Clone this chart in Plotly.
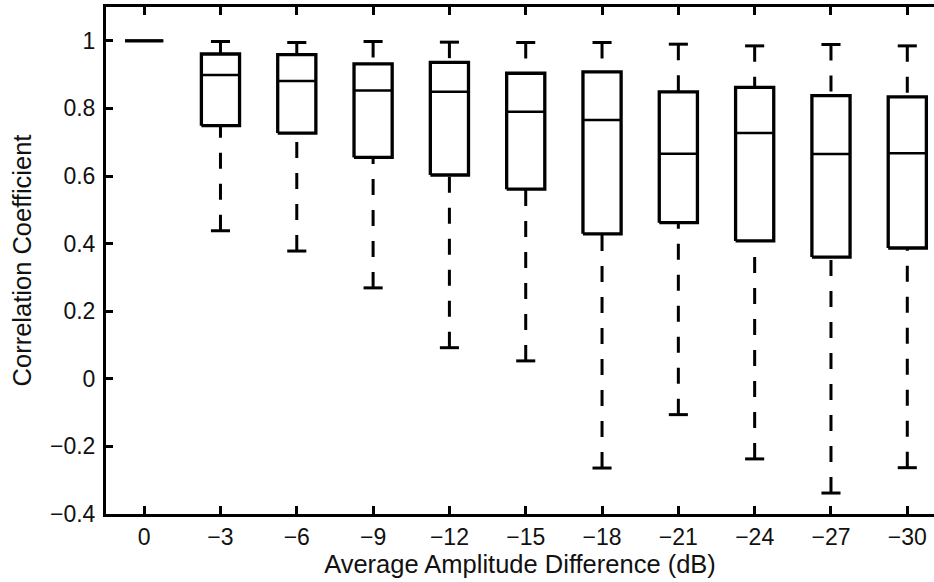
import plotly.graph_objects as go

categories = ["0", "−3", "−6", "−9", "−12", "−15", "−18", "−21", "−24", "−27", "−30"]
lower_whisker = [1.0, 0.438, 0.378, 0.269, 0.092, 0.053, -0.264, -0.106, -0.237, -0.338, -0.263]
q1 = [1.0, 0.749, 0.727, 0.655, 0.603, 0.561, 0.429, 0.462, 0.408, 0.360, 0.387]
median = [1.0, 0.899, 0.881, 0.853, 0.849, 0.790, 0.766, 0.666, 0.727, 0.665, 0.667]
q3 = [1.0, 0.961, 0.959, 0.932, 0.936, 0.904, 0.908, 0.849, 0.862, 0.838, 0.834]
upper_whisker = [1.0, 0.998, 0.995, 0.998, 0.996, 0.995, 0.995, 0.990, 0.985, 0.989, 0.985]
y_ticks = [-0.4, -0.2, 0, 0.2, 0.4, 0.6, 0.8, 1]

BOX_HALF = 0.25
CAP_HALF = 0.125
FONT = "Liberation Sans, Arial, Helvetica, sans-serif"

box_x, box_y = [], []
med_x, med_y = [], []
cap_x, cap_y = [], []
wh_x, wh_y = [], []
for i in range(len(categories)):
    box_x += [i - BOX_HALF, i + BOX_HALF, i + BOX_HALF, i - BOX_HALF, i - BOX_HALF, None]
    box_y += [q1[i], q1[i], q3[i], q3[i], q1[i], None]
    med_x += [i - BOX_HALF, i + BOX_HALF, None]
    med_y += [median[i], median[i], None]
    if i > 0:
        cap_x += [i - CAP_HALF, i + CAP_HALF, None, i - CAP_HALF, i + CAP_HALF, None]
        cap_y += [upper_whisker[i], upper_whisker[i], None, lower_whisker[i], lower_whisker[i], None]
        wh_x += [i, i, None, i, i, None]
        wh_y += [upper_whisker[i], q3[i], None, lower_whisker[i], q1[i], None]

fig = go.Figure()
fig.add_trace(go.Scatter(x=wh_x, y=wh_y, mode="lines",
                         line=dict(color="black", width=3, dash="16px,15px"),
                         hoverinfo="skip", showlegend=False))
fig.add_trace(go.Scatter(x=cap_x, y=cap_y, mode="lines",
                         line=dict(color="black", width=3),
                         hoverinfo="skip", showlegend=False))
fig.add_trace(go.Scatter(x=box_x, y=box_y, mode="lines",
                         line=dict(color="black", width=3.3),
                         hoverinfo="skip", showlegend=False))
fig.add_trace(go.Scatter(x=med_x, y=med_y, mode="lines",
                         line=dict(color="black", width=2.5),
                         hoverinfo="skip", showlegend=False))

fig.update_layout(
    width=934, height=582,
    margin=dict(l=106, r=0, t=7, b=68),
    plot_bgcolor="white", paper_bgcolor="white",
    font=dict(family=FONT, size=23, color="#111111"),
    showlegend=False,
)
fig.update_xaxes(
    range=[-0.5, 10.35],
    tickmode="array", tickvals=list(range(len(categories))), ticktext=categories,
    ticks="inside", ticklen=8, tickwidth=3, tickcolor="black",
    showline=True, linewidth=3, linecolor="black", mirror="ticks",
    showgrid=False, zeroline=False,
    ticklabelstandoff=0,
    title=dict(text="Average Amplitude Difference (dB)", font=dict(size=25.5), standoff=7),
)
fig.update_yaxes(
    range=[-0.4, 1.1],
    tickmode="array", tickvals=y_ticks,
    ticktext=[("−" if v < 0 else "") + (f"{abs(v):g}") for v in y_ticks],
    ticks="inside", ticklen=7, tickwidth=3, tickcolor="black",
    showline=True, linewidth=3, linecolor="black", mirror=False,
    showgrid=False, zeroline=False,
    ticklabelstandoff=3,
    title=dict(text="Correlation Coefficient", font=dict(size=25.5), standoff=12),
)

fig.write_html("out.html",
               config={"displayModeBar": False},
               post_script="document.body.style.margin='0';document.body.style.overflow='hidden';")
